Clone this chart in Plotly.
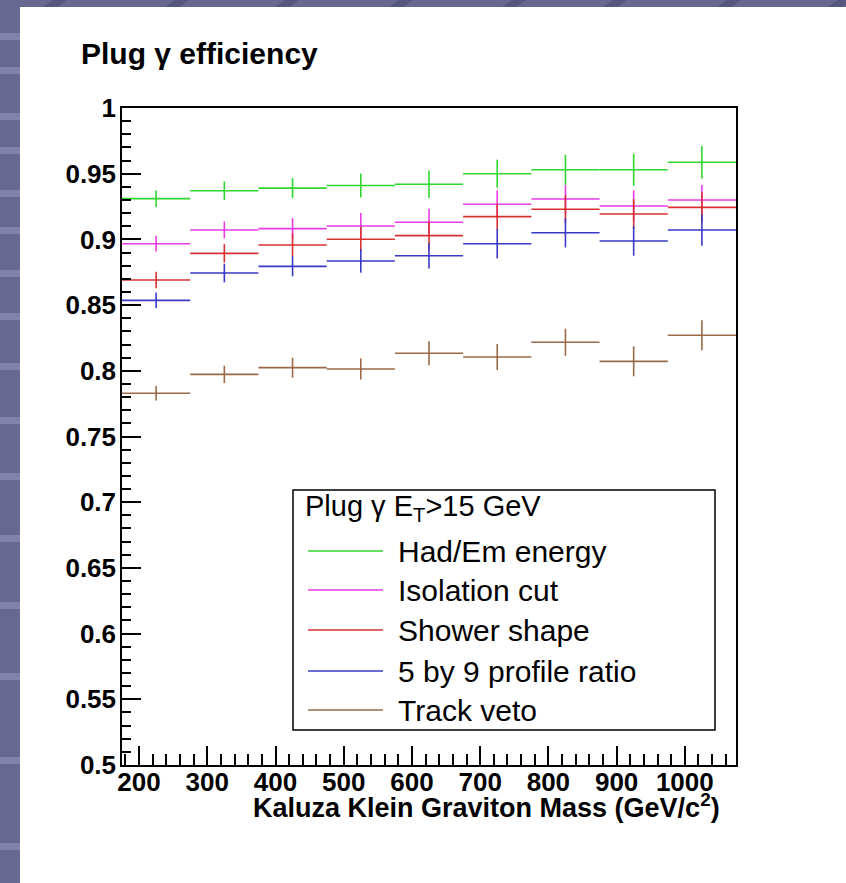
import plotly.graph_objects as go

# Kaluza-Klein graviton mass bins (GeV/c^2)
mass_centers = [225, 325, 425, 525, 625, 725, 825, 925, 1025]
bin_half_width = 50

# Cumulative plug photon efficiencies and their uncertainties
had_em = [0.931, 0.937, 0.939, 0.941, 0.942, 0.950, 0.953, 0.953, 0.9587]
had_em_err = [0.0063, 0.0071, 0.0077, 0.0091, 0.0104, 0.0107, 0.0114, 0.0122, 0.0124]

isolation = [0.8967, 0.9072, 0.9082, 0.9102, 0.9130, 0.9267, 0.9307, 0.9254, 0.9300]
isolation_err = [0.0060, 0.0064, 0.0080, 0.0099, 0.0104, 0.0105, 0.0108, 0.0118, 0.0114]

shower = [0.8691, 0.8894, 0.8957, 0.9001, 0.9029, 0.9173, 0.9229, 0.9193, 0.9244]
shower_err = [0.0063, 0.0070, 0.0089, 0.0095, 0.0107, 0.0099, 0.0107, 0.0114, 0.0114]

profile = [0.8536, 0.8744, 0.8795, 0.8836, 0.8876, 0.8967, 0.9051, 0.8988, 0.9072]
profile_err = [0.0059, 0.0071, 0.0076, 0.0089, 0.0097, 0.0112, 0.0112, 0.0112, 0.0120]

track = [0.7829, 0.7973, 0.8024, 0.8014, 0.8133, 0.8105, 0.8217, 0.8072, 0.8270]
track_err = [0.0055, 0.0066, 0.0076, 0.0081, 0.0091, 0.0099, 0.0103, 0.0114, 0.0114]

series_names = ["Had/Em energy", "Isolation cut", "Shower shape",
                "5 by 9 profile ratio", "Track veto"]
series_values = [had_em, isolation, shower, profile, track]
series_errors = [had_em_err, isolation_err, shower_err, profile_err, track_err]
series_colors = ["#2fd62f", "#e83ce8", "#d93030", "#3a3ac8", "#9a6a48"]

y_ticks = [0.5, 0.55, 0.6, 0.65, 0.7, 0.75, 0.8, 0.85, 0.9, 0.95, 1.0]
y_tick_labels = ["0.5", "0.55", "0.6", "0.65", "0.7", "0.75", "0.8",
                 "0.85", "0.9", "0.95", "1"]
x_ticks = [200, 300, 400, 500, 600, 700, 800, 900, 1000]

W, H = 846, 883
ML, MR, MT, MB = 122, 110, 108, 118
PW, PH = W - ML - MR, H - MT - MB


def px(x):
    return (x - ML) / PW


def py(y):
    return (H - MB - y) / PH


fig = go.Figure()

for name, vals, errs, col in zip(series_names, series_values, series_errors, series_colors):
    fig.add_trace(go.Scatter(
        x=mass_centers, y=vals, mode="markers", name=name,
        marker=dict(size=2, color=col),
        error_x=dict(type="constant", value=bin_half_width, color=col,
                     thickness=1.6, width=0),
        error_y=dict(type="data", array=errs, color=col,
                     thickness=1.6, width=0),
        showlegend=False,
    ))

shapes = []
# slide backdrop: white sheet, lighter bands on the left strip, slanted top separators
shapes.append(dict(type="rect", xref="paper", yref="paper", layer="below",
                   x0=px(20), x1=px(W), y0=py(H), y1=py(7),
                   fillcolor="white", line=dict(width=0)))
for top in [33, 67, 113, 147, 190, 227, 270, 313, 363, 417, 473, 535, 602, 673, 757, 843]:
    shapes.append(dict(type="rect", xref="paper", yref="paper", layer="below",
                       x0=px(0), x1=px(20), y0=py(top + 7), y1=py(top),
                       fillcolor="#8283ab", line=dict(width=0)))
for sx in [51, 173, 283, 397, 510, 611, 725, 836]:
    path = "M{},{} L{},{} L{},{} L{},{} Z".format(
        px(sx - 8), py(7), px(sx + 2), py(0), px(sx + 16), py(0), px(sx + 6), py(7))
    shapes.append(dict(type="path", xref="paper", yref="paper", layer="below",
                       path=path, fillcolor="#56577e", line=dict(width=0)))

# legend box
LX0, LX1, LY0, LY1 = 293, 715, 490, 730
shapes.append(dict(type="rect", xref="paper", yref="paper", layer="above",
                   x0=px(LX0), x1=px(LX1), y0=py(LY1), y1=py(LY0),
                   fillcolor="white", line=dict(color="black", width=1.5)))

annotations = []
annotations.append(dict(xref="paper", yref="paper", x=px(303), y=py(508),
                        xanchor="left", yanchor="middle", showarrow=False,
                        text="Plug \u03b3 E<sub>T</sub>&gt;15 GeV",
                        font=dict(family="Liberation Sans", size=29, color="black")))
row_y = [551, 590, 630, 671, 710]
for name, col, ry in zip(series_names, series_colors, row_y):
    shapes.append(dict(type="line", xref="paper", yref="paper", layer="above",
                       x0=px(308), x1=px(383), y0=py(ry), y1=py(ry),
                       line=dict(color=col, width=1.5)))
    annotations.append(dict(xref="paper", yref="paper", x=px(396), y=py(ry),
                            xanchor="left", yanchor="middle", showarrow=False,
                            text=name,
                            font=dict(family="Liberation Sans", size=30, color="black")))

# chart title and x-axis title
annotations.append(dict(xref="paper", yref="paper", x=px(79), y=py(54),
                        xanchor="left", yanchor="middle", showarrow=False,
                        text="<b>Plug \u03b3 efficiency</b>",
                        font=dict(family="Liberation Sans", size=30, color="black")))
annotations.append(dict(xref="paper", yref="paper", x=px(722), y=py(806),
                        xanchor="right", yanchor="middle", showarrow=False,
                        text="<b>Kaluza Klein Graviton Mass (GeV/c<sup>2</sup>)</b>",
                        font=dict(family="Liberation Sans", size=27, color="black")))

axis_font = dict(family="Liberation Sans", size=26, color="black", weight="bold")

fig.update_layout(
    width=W, height=H,
    margin=dict(l=ML, r=MR, t=MT, b=MB, pad=0),
    paper_bgcolor="#67688f",
    plot_bgcolor="white",
    shapes=shapes,
    annotations=annotations,
    showlegend=False,
    xaxis=dict(
        range=[175, 1075], tickvals=x_ticks, ticks="inside", ticklen=19,
        tickwidth=1.5, tickcolor="black", showgrid=False, zeroline=False,
        showline=True, linecolor="black", linewidth=1.5, mirror=True,
        tickfont=axis_font, ticklabelstandoff=-7,
        minor=dict(dtick=20, tick0=200, ticks="inside", ticklen=11,
                   tickwidth=1.5, tickcolor="black", showgrid=False),
    ),
    yaxis=dict(
        range=[0.5, 1.0], tickvals=y_ticks, ticktext=y_tick_labels,
        ticks="inside", ticklen=19, tickwidth=1.5, tickcolor="black",
        showgrid=False, zeroline=False,
        showline=True, linecolor="black", linewidth=1.5, mirror=True,
        tickfont=axis_font, ticklabelstandoff=-1,
        minor=dict(dtick=0.01, tick0=0.5, ticks="inside", ticklen=9,
                   tickwidth=1.5, tickcolor="black", showgrid=False),
    ),
)

fig.write_html("out.html")
